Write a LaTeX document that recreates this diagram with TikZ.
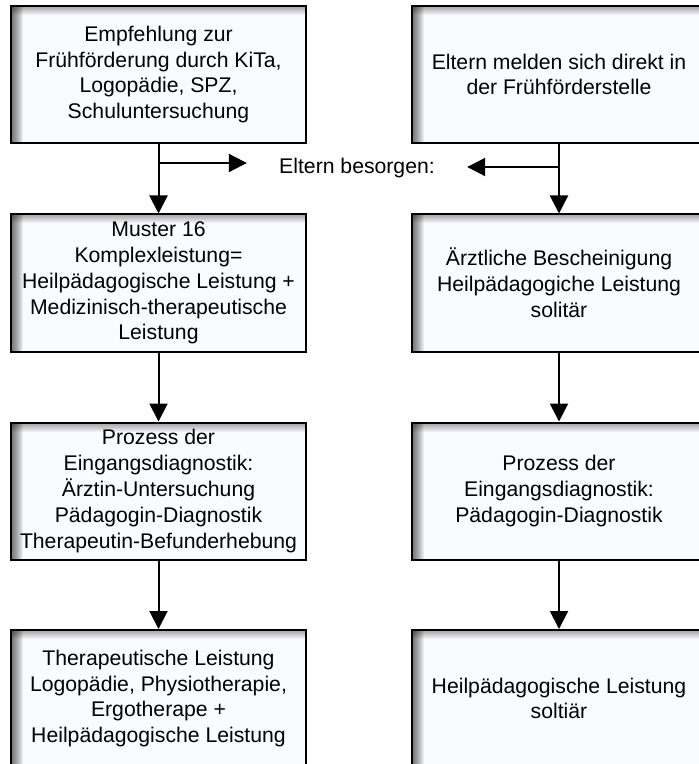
\documentclass[tikz,border=0pt]{standalone}
\usepackage{fontspec}
\setmainfont{Liberation Sans}
\usetikzlibrary{arrows.meta}
\definecolor{boxfill}{RGB}{250,251,254}

\begin{document}
\begin{tikzpicture}[x=0.5pt, y=-0.5pt,
    box/.style={draw=black, line width=1pt, fill=boxfill, minimum width=147.5pt,
      minimum height=68.5pt, align=center, inner sep=0pt,
      font=\fontsize{10.6}{12.9}\selectfont,
      path picture={
        \foreach \i in {1,...,12}
          \fill[black, opacity=0.06] (path picture bounding box.north west) rectangle ([xshift=\i*0.5pt]path picture bounding box.south west);
        \foreach \i in {1,...,9}
          \fill[black, opacity=0.045] (path picture bounding box.north west) rectangle ([yshift=-\i*0.5pt]path picture bounding box.north east);
      }},
    pfeil/.style={line width=1pt, -{Triangle[length=9pt,width=9pt]}}]
\useasboundingbox (0,0) rectangle (699,764);
\clip (0,0) rectangle (699,764);

\node[box] (empf) at (158.5,74.5) {Empfehlung zur\\Frühförderung durch KiTa,\\Logopädie, SPZ,\\Schuluntersuchung};
\node[box] (melden) at (559,74.5) {Eltern melden sich direkt in\\der Frühförderstelle};
\node[box] (muster) at (158.5,283) {Muster 16\\Komplexleistung=\\Heilpädagogische Leistung +\\Medizinisch-therapeutische\\Leistung};
\node[box] (beschein) at (559,283) {Ärztliche Bescheinigung\\Heilpädagogiche Leistung\\solitär};
\node[box] (diagL) at (158.5,491) {Prozess der\\Eingangsdiagnostik:\\Ärztin-Untersuchung\\Pädagogin-Diagnostik\\Therapeutin-Befunderhebung};
\node[box] (diagR) at (559,491) {Prozess der\\Eingangsdiagnostik:\\Pädagogin-Diagnostik};
\node[box] (therap) at (158.5,698.5) {Therapeutische Leistung\\Logopädie, Physiotherapie,\\Ergotherape +\\Heilpädagogische Leistung};
\node[box] (heilp) at (559,698.5) {Heilpädagogische Leistung\\soltiär};

\node[inner xsep=16pt, font=\fontsize{10.6}{12.9}\selectfont] (besorgen) at (357,168) {Eltern besorgen:};
\coordinate (gabelL) at (158.5,163);
\coordinate (gabelR) at (559,167);

\draw[pfeil] (empf) -- (muster);
\draw[pfeil] (muster) -- (diagL);
\draw[pfeil] (diagL) -- (therap);
\draw[pfeil] (melden) -- (beschein);
\draw[pfeil] (beschein) -- (diagR);
\draw[pfeil] (diagR) -- (heilp);
\draw[pfeil] (gabelL) -- (gabelL -| besorgen.west);
\draw[pfeil] (gabelR) -- (gabelR -| besorgen.east);
\end{tikzpicture}
\end{document}
